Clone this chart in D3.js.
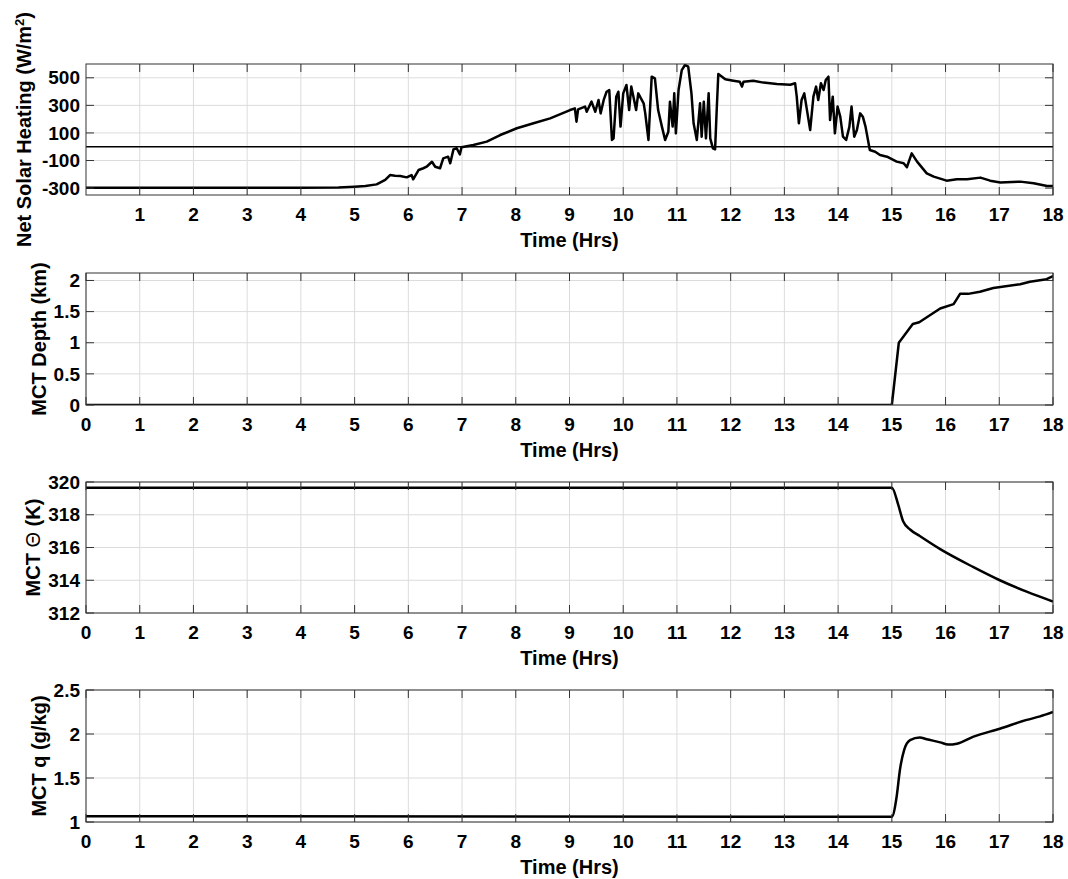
<!DOCTYPE html>
<html lang="en">
<head>
<meta charset="UTF-8">
<title>Mixed convective layer time series</title>
<script src="https://d3js.org/d3.v7.min.js"></script>
<style>
  body { margin: 0; background: #fff; }
  svg text { font-family: "Liberation Sans", Arial, Helvetica, sans-serif; font-weight: bold; fill: #000; }
  .grid line { stroke: #dcdcdc; stroke-width: 1; }
  .frame { fill: none; stroke: #333; stroke-width: 1; }
  .tick { stroke: #333; stroke-width: 1; }
  .series { fill: none; stroke: #000; stroke-width: 2.5; stroke-linejoin: round; }
</style>
</head>
<body>
<div id="chart"></div>
<script>
// ---- data ----
const hourTicks = d3.range(0, 19);
const hourTicksTop = d3.range(1, 19);

const solarTime = [0, 4.0, 4.7, 5.0, 5.2, 5.41, 5.57, 5.66, 5.75, 5.85, 5.97, 6.06, 6.09, 6.19, 6.28, 6.34,
  6.44, 6.50, 6.59, 6.65, 6.74, 6.78, 6.84, 6.90, 6.96, 6.99, 7.21, 7.46, 7.71, 8.02, 8.33, 8.64,
  9.01, 9.10, 9.13, 9.16, 9.29, 9.32, 9.41, 9.48, 9.54, 9.58, 9.64, 9.69, 9.74, 9.79, 9.82, 9.87,
  9.91, 9.95, 10.00, 10.06, 10.11, 10.15, 10.19, 10.24, 10.28, 10.38, 10.41, 10.47, 10.53, 10.59,
  10.65, 10.72, 10.78, 10.84, 10.87, 10.92, 10.95, 10.98, 11.03, 11.09, 11.15, 11.21, 11.27, 11.31,
  11.37, 11.43, 11.46, 11.50, 11.54, 11.59, 11.62, 11.67, 11.71, 11.74, 11.77, 11.82, 11.90, 12.05,
  12.17, 12.21, 12.24, 12.42, 12.61, 12.86, 13.11, 13.20, 13.23, 13.27, 13.32, 13.37, 13.43, 13.48,
  13.54, 13.59, 13.63, 13.68, 13.73, 13.77, 13.82, 13.85, 13.90, 13.94, 13.99, 14.04, 14.09, 14.15,
  14.21, 14.25, 14.30, 14.35, 14.41, 14.46, 14.51, 14.59, 14.69, 14.78, 14.91, 15.09, 15.22, 15.28,
  15.37, 15.47, 15.65, 15.78, 16.02, 16.21, 16.40, 16.65, 16.83, 17.02, 17.39, 17.64, 17.89, 18.0];
const solarValue = [-297, -297, -296, -290, -285, -273, -241, -205, -210, -212, -222, -205, -236, -169, -156, -145,
  -109, -145, -156, -84, -72, -120, -19, -11, -55, -4, 13, 37, 85, 134, 170, 206,
  266, 278, 182, 271, 291, 254, 327, 254, 339, 242, 344, 399, 411, 49, 61, 363,
  399, 146, 387, 448, 266, 436, 363, 266, 387, 315, 242, 49, 508, 496,
  266, 146, 49, 109, 327, 146, 387, 97, 411, 556, 593, 581, 387, 170,
  49, 315, 73, 327, 61, 387, 61, -12, -19, 266, 527, 513, 489, 479,
  472, 436, 472, 479, 465, 455, 450, 460, 363, 170, 339, 387, 242, 121,
  363, 436, 339, 460, 411, 484, 508, 194, 363, 97, 291, 218, 73, 49,
  146, 291, 73, 121, 242, 218, 146, -24, -36, -60, -72, -108, -120, -149,
  -48, -108, -193, -217, -246, -236, -236, -224, -246, -260, -253, -265, -285, -285];
const solarTicks = [-300, -100, 100, 300, 500];

const depthTime = [0, 15.0, 15.13, 15.39, 15.51, 15.90, 16.15, 16.27, 16.42, 16.64, 16.89, 17.39, 17.57, 17.88, 18.0];
const depthValue = [0, 0, 1.0, 1.30, 1.33, 1.55, 1.62, 1.785, 1.785, 1.82, 1.88, 1.94, 1.98, 2.02, 2.07];
const depthTicks = [0, 0.5, 1, 1.5, 2];

const thetaTime = [0, 15.0, 15.12, 15.21, 15.34, 15.52, 15.90, 16.52, 17.01, 17.51, 18.0];
const thetaValue = [319.65, 319.65, 318.6, 317.6, 317.1, 316.7, 315.9, 314.8, 314.0, 313.3, 312.7];
const thetaTicks = [312, 314, 316, 318, 320];

const qTime = [0, 15.0, 15.09, 15.15, 15.23, 15.34, 15.52, 15.65, 15.90, 16.05, 16.21, 16.52, 17.01, 17.51, 17.76, 18.0];
const qValue = [1.065, 1.06, 1.29, 1.59, 1.82, 1.93, 1.96, 1.94, 1.905, 1.88, 1.89, 1.97, 2.06, 2.16, 2.20, 2.25];
const qTicks = [1, 1.5, 2, 2.5];

// ---- layout ----
const width = 1068, height = 879;
const left = 86, right = 1053;
const tickLen = 8;

const svg = d3.select("#chart").append("svg")
  .attr("width", width).attr("height", height);

const x = d3.scaleLinear().domain([0, 18]).range([left, right]);

const panels = [
  { top: 64, bottom: 195, domain: [-350, 600], yTicks: solarTicks, xTicks: hourTicksTop,
    time: solarTime, values: solarValue, labelX: 24, zeroLine: true, curve: d3.curveLinear,
    label: t => { t.append("tspan").text("Net Solar Heating (W/m");
                  t.append("tspan").attr("baseline-shift", "super").attr("font-size", 13).text("2");
                  t.append("tspan").text(")"); } },
  { top: 273, bottom: 405, domain: [0, 2.12], yTicks: depthTicks, xTicks: hourTicks,
    time: depthTime, values: depthValue, labelX: 39, curve: d3.curveLinear,
    label: t => t.text("MCT Depth (km)") },
  { top: 482, bottom: 613, domain: [312, 320], yTicks: thetaTicks, xTicks: hourTicks,
    time: thetaTime, values: thetaValue, labelX: 33, curve: d3.curveMonotoneX,
    label: t => { t.append("tspan").text("MCT ");
                  t.append("tspan").attr("font-weight", "normal").text("Θ");
                  t.append("tspan").text(" (K)"); } },
  { top: 690, bottom: 822, domain: [1, 2.5], yTicks: qTicks, xTicks: hourTicks,
    time: qTime, values: qValue, labelX: 39, curve: d3.curveMonotoneX,
    label: t => t.text("MCT q (g/kg)") }
];

panels.forEach((p, i) => {
  const y = d3.scaleLinear().domain(p.domain).range([p.bottom, p.top]);
  const g = svg.append("g");

  g.append("clipPath").attr("id", "clip" + i)
    .append("rect").attr("x", left).attr("y", p.top)
    .attr("width", right - left).attr("height", p.bottom - p.top);

  // grid
  const grid = g.append("g").attr("class", "grid");
  grid.selectAll(".gx").data(p.xTicks).join("line")
    .attr("x1", d => x(d)).attr("x2", d => x(d))
    .attr("y1", p.top).attr("y2", p.bottom);
  grid.selectAll(".gy").data(p.yTicks).join("line").attr("class", "gy")
    .attr("x1", left).attr("x2", right)
    .attr("y1", d => y(d)).attr("y2", d => y(d));

  // zero reference line
  if (p.zeroLine) {
    g.append("line").attr("x1", left).attr("x2", right)
      .attr("y1", y(0)).attr("y2", y(0))
      .attr("stroke", "#000").attr("stroke-width", 1.3);
  }

  // data
  const pts = p.time.map((t, k) => [t, p.values[k]]);
  g.append("path").attr("class", "series")
    .attr("clip-path", `url(#clip${i})`)
    .attr("d", d3.line().x(d => x(d[0])).y(d => y(d[1])).curve(p.curve)(pts));

  // box and inward ticks on all sides
  g.append("rect").attr("class", "frame")
    .attr("x", left).attr("y", p.top)
    .attr("width", right - left).attr("height", p.bottom - p.top);

  const ticks = g.append("g");
  p.xTicks.forEach(d => {
    ticks.append("line").attr("class", "tick")
      .attr("x1", x(d)).attr("x2", x(d)).attr("y1", p.bottom).attr("y2", p.bottom - tickLen);
    ticks.append("line").attr("class", "tick")
      .attr("x1", x(d)).attr("x2", x(d)).attr("y1", p.top).attr("y2", p.top + tickLen);
  });
  p.yTicks.forEach(d => {
    ticks.append("line").attr("class", "tick")
      .attr("x1", left).attr("x2", left + tickLen).attr("y1", y(d)).attr("y2", y(d));
    ticks.append("line").attr("class", "tick")
      .attr("x1", right).attr("x2", right - tickLen).attr("y1", y(d)).attr("y2", y(d));
  });

  // tick labels
  g.selectAll(".xl").data(p.xTicks).join("text")
    .attr("x", d => x(d)).attr("y", p.bottom + 26)
    .attr("text-anchor", "middle").attr("font-size", 19)
    .text(d => d);
  g.selectAll(".yl").data(p.yTicks).join("text")
    .attr("x", left - 6).attr("y", d => y(d)).attr("dy", "0.35em")
    .attr("text-anchor", "end").attr("font-size", 19)
    .text(d => d);

  // axis titles
  g.append("text")
    .attr("x", (left + right) / 2).attr("y", p.bottom + 52)
    .attr("text-anchor", "middle").attr("font-size", 20)
    .text("Time (Hrs)");
  const yl = g.append("text")
    .attr("transform", `translate(${p.labelX},${(p.top + p.bottom) / 2}) rotate(-90)`)
    .attr("dy", "0.35em").attr("text-anchor", "middle").attr("font-size", 20);
  p.label(yl);
});
</script>
</body>
</html>
